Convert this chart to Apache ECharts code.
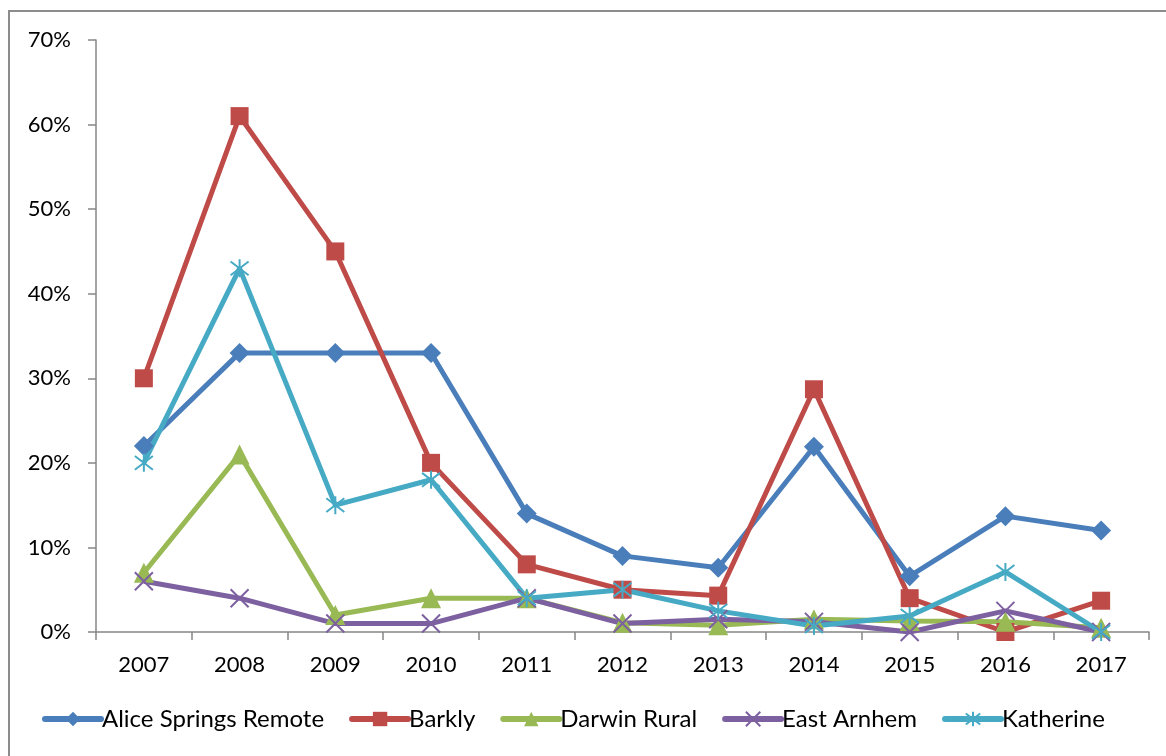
<!DOCTYPE html>
<html>
<head>
<meta charset="utf-8">
<script src="https://cdn.jsdelivr.net/npm/echarts@6/dist/echarts.min.js"></script>
<style>
  html, body { margin: 0; padding: 0; background: #fff; }
  /* outer chart frame, right/bottom edges run off the picture */
  .frame { position: absolute; left: 8px; top: 10px; width: 1200px; height: 800px; border: 2px solid #8c8c8c; box-sizing: border-box; }
  #chart { position: absolute; left: 0; top: 0; width: 1166px; height: 756px; }
</style>
</head>
<body>
<div class="frame"></div>
<div id="chart"></div>
<script>
// years on x axis
const years = ['2007', '2008', '2009', '2010', '2011', '2012', '2013', '2014', '2015', '2016', '2017']
// values in percent
const aliceSprings = [22, 33, 33, 33, 14, 9, 7.6, 21.9, 6.6, 13.7, 12]
const barkly = [30, 61, 45, 20, 8, 5, 4.3, 28.7, 4, 0, 3.7]
const darwinRural = [7, 21, 2, 4, 4, 1.1, 0.8, 1.5, 1.3, 1.2, 0.5]
const eastArnhem = [6, 4, 1, 1, 4, 1, 1.5, 1.2, 0, 2.5, 0]
const katherine = [20, 43, 15, 18, 4, 5, 2.5, 0.7, 1.9, 7.1, 0]
const yTicks = [0, 10, 20, 30, 40, 50, 60, 70]

const fontFamily = 'Lato, "Open Sans", sans-serif'
const crossPath = 'path://M0 0 L10 10 M10 0 L0 10'
const starPath = 'path://M0 0 L10 10 M10 0 L0 10 M5 -1.5 L5 11.5'

function makeSeries(name, data, color, symbol, size, stroke) {
  const s = {
    name: name,
    type: 'line',
    data: data,
    symbol: symbol,
    symbolSize: size,
    color: color,
    lineStyle: { width: 5, color: color },
    itemStyle: { color: color },
    emphasis: { disabled: true }
  }
  if (stroke) {
    s.itemStyle = { color: 'none', borderColor: color, borderWidth: 2 }
  }
  return s
}

const chart = echarts.init(document.getElementById('chart'))
chart.setOption({
  animation: false,
  textStyle: { fontFamily: fontFamily },
  grid: { left: 96, right: 17, top: 40, bottom: 124, containLabel: false },
  legend: {
    top: 702,
    left: 37,
    itemWidth: 56,
    itemHeight: 18,
    itemGap: 25,
    lineStyle: { width: 6, cap: 'round' },
    textStyle: { fontSize: 24, color: '#000', fontFamily: fontFamily, padding: [0, 0, 0, -4] },
    data: ['Alice Springs Remote', 'Barkly', 'Darwin Rural', 'East Arnhem', 'Katherine']
  },
  xAxis: {
    type: 'category',
    data: years,
    boundaryGap: true,
    axisLine: { lineStyle: { color: '#868686', width: 1.5 } },
    axisTick: { show: true, length: 8, alignWithLabel: false, lineStyle: { color: '#868686', width: 1.5 } },
    axisLabel: { fontSize: 22, color: '#000', margin: 22, interval: 0 },
    splitLine: { show: false }
  },
  yAxis: {
    type: 'value',
    min: yTicks[0],
    max: yTicks[yTicks.length - 1],
    interval: 10,
    axisLine: { show: true, lineStyle: { color: '#868686', width: 1.5 } },
    axisTick: { show: true, length: 8, lineStyle: { color: '#868686', width: 1.5 } },
    axisLabel: { fontSize: 22, color: '#000', margin: 25, formatter: v => v + '%' },
    splitLine: { show: false }
  },
  series: [
    makeSeries('Alice Springs Remote', aliceSprings, '#4A7EBB', 'diamond', 20),
    makeSeries('Barkly', barkly, '#BE4B48', 'rect', 18),
    makeSeries('Darwin Rural', darwinRural, '#98B954', 'triangle', 20),
    makeSeries('East Arnhem', eastArnhem, '#7D60A0', crossPath, 18, true),
    makeSeries('Katherine', katherine, '#46AAC5', starPath, 18, true)
  ]
})
</script>
</body>
</html>
